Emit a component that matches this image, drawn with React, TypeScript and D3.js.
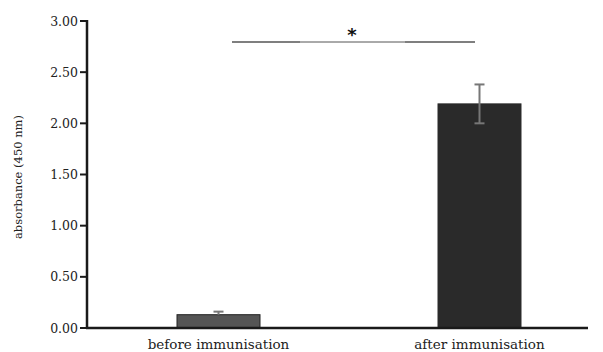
import React, { useEffect, useRef } from 'react';
import * as d3 from 'd3';

const categories = ['before immunisation', 'after immunisation'];
const means = [0.13, 2.19];
const errors = [0.03, 0.19];
const yTicks = [0, 0.5, 1, 1.5, 2, 2.5, 3];
const barFills = ['#555555', '#2a2a2a'];

export default function App() {
  const ref = useRef<SVGSVGElement | null>(null);

  useEffect(() => {
    const svg = d3.select(ref.current);
    svg.selectAll('*').remove();

    const font = '"DejaVu Serif", "Liberation Serif", serif';
    const y = d3.scaleLinear().domain([0, 3]).range([328, 21]);
    const x = d3.scaleBand<string>()
      .domain(categories)
      .range([88, 610])
      .paddingInner(0.682)
      .paddingOuter(0.341);

    // bars
    categories.forEach((c, i) => {
      svg.append('rect')
        .attr('x', x(c)!)
        .attr('y', y(means[i]))
        .attr('width', x.bandwidth())
        .attr('height', y(0) - y(means[i]))
        .attr('fill', barFills[i])
        .attr('stroke', i === 0 ? '#222' : '#2a2a2a')
        .attr('stroke-width', 1);

      const cx = x(c)! + x.bandwidth() / 2;
      const top = y(means[i] + errors[i]);
      const bot = y(Math.max(0, means[i] - errors[i]));
      const eb = svg.append('g').attr('stroke', '#777').attr('stroke-width', 2);
      eb.append('line').attr('x1', cx).attr('x2', cx).attr('y1', top).attr('y2', i === 0 ? y(means[i]) : bot);
      eb.append('line').attr('x1', cx - 5).attr('x2', cx + 5).attr('y1', top).attr('y2', top);
      if (i === 1) eb.append('line').attr('x1', cx - 5).attr('x2', cx + 5).attr('y1', bot).attr('y2', bot);
    });

    // y axis
    const ax = svg.append('g');
    ax.append('line')
      .attr('x1', 87).attr('x2', 87).attr('y1', y(3) - 1).attr('y2', y(0) + 1)
      .attr('stroke', '#1a1a1a').attr('stroke-width', 2.5);
    ax.append('line')
      .attr('x1', 86).attr('x2', 588).attr('y1', y(0)).attr('y2', y(0))
      .attr('stroke', '#1a1a1a').attr('stroke-width', 2.5);
    yTicks.forEach(t => {
      ax.append('line')
        .attr('x1', 80).attr('x2', 87).attr('y1', y(t)).attr('y2', y(t))
        .attr('stroke', '#1a1a1a').attr('stroke-width', 2);
      ax.append('text')
        .attr('x', 78).attr('y', y(t))
        .attr('dy', '0.36em')
        .attr('text-anchor', 'end')
        .attr('font-family', font)
        .attr('font-size', 12.5)
        .attr('fill', '#222')
        .text(d3.format('.2f')(t));
    });

    svg.append('text')
      .attr('transform', `translate(22,${177}) rotate(-90)`)
      .attr('text-anchor', 'middle')
      .attr('font-family', font)
      .attr('font-size', 11.5)
      .attr('fill', '#222')
      .text('absorbance (450 nm)');

    categories.forEach(c => {
      svg.append('text')
        .attr('x', x(c)! + x.bandwidth() / 2)
        .attr('y', 349)
        .attr('text-anchor', 'middle')
        .attr('font-family', font)
        .attr('font-size', 13.5)
        .attr('fill', '#222')
        .text(c);
    });

    // significance bracket
    const sy = 42;
    const sig = svg.append('g').attr('stroke', '#555');
    sig.append('line').attr('x1', 232).attr('x2', 300).attr('y1', sy).attr('y2', sy).attr('stroke-width', 1.6);
    sig.append('line').attr('x1', 300).attr('x2', 405).attr('y1', sy).attr('y2', sy).attr('stroke-width', 1);
    sig.append('line').attr('x1', 405).attr('x2', 475).attr('y1', sy).attr('y2', sy).attr('stroke-width', 1.6);
    svg.append('text')
      .attr('x', 352).attr('y', 41)
      .attr('text-anchor', 'middle')
      .attr('font-family', '"DejaVu Sans", sans-serif')
      .attr('font-weight', 'bold')
      .attr('font-size', 18)
      .attr('fill', '#111')
      .text('*');
  }, []);

  return (
    <svg ref={ref} width={603} height={352}
      style={{ position: 'absolute', left: 0, top: 0, background: '#fff' }} />
  );
}
